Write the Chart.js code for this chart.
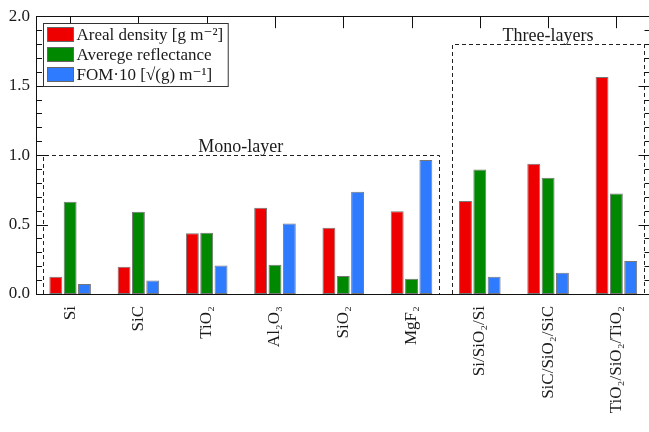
<!DOCTYPE html>
<html>
<head>
<meta charset="utf-8">
<script src="https://cdn.jsdelivr.net/npm/chart.js@4.4.0/dist/chart.umd.min.js"></script>
<style>
    html, body { margin: 0; padding: 0; background: #fff; overflow: hidden; }
    #wrap { width: 652px; height: 432px; }
</style>
</head>
<body>
<div id="wrap"><canvas id="grafico" width="652" height="432"></canvas></div>
<script>
// Dados
const categorias = ['Si', 'SiC', 'TiO₂', 'Al₂O₃', 'SiO₂', 'MgF₂', 'Si/SiO₂/Si', 'SiC/SiO₂/SiC', 'TiO₂/SiO₂/TiO₂'];
const densidadeAreal = [0.125, 0.196, 0.437, 0.621, 0.477, 0.595, 0.669, 0.938, 1.563];
const refletancia = [0.664, 0.592, 0.441, 0.211, 0.129, 0.110, 0.897, 0.837, 0.724];
const fom = [0.072, 0.098, 0.206, 0.508, 0.736, 0.964, 0.125, 0.153, 0.237];
const yTicks = [0, 0.5, 1.0, 1.5, 2.0];

// Caixas tracejadas (coordenadas em dados: índice de categoria e valor)
const grupos = [
    { texto: 'Mono-layer', x0: -0.4, x1: 5.4, y1: 1.0 },
    { texto: 'Three-layers', x0: 5.6, x1: 8.4, y1: 1.8 }
];

const fonte = '"Liberation Serif", "DejaVu Serif", serif';
const corTexto = '#1a1a1a';

// Plugin para moldura, ticks internos, caixas e legenda
const decoracao = {
    id: 'decoracao',
    afterDatasetsDraw(chart) {
        const { ctx, chartArea: a, scales: { x, y } } = chart;
        ctx.save();

        // caixas tracejadas
        ctx.strokeStyle = '#222';
        ctx.lineWidth = 1;
        ctx.setLineDash([4, 3]);
        grupos.forEach(g => {
            const px0 = Math.round(x.getPixelForValue(g.x0)) + 0.5;
            const px1 = Math.round(x.getPixelForValue(g.x1)) + 0.5;
            const py1 = Math.round(y.getPixelForValue(g.y1)) + 0.5;
            const py0 = y.getPixelForValue(0);
            ctx.beginPath();
            ctx.moveTo(px0, py0);
            ctx.lineTo(px0, py1);
            ctx.lineTo(px1, py1);
            ctx.lineTo(px1, py0);
            ctx.stroke();
        });
        ctx.setLineDash([]);

        ctx.fillStyle = corTexto;
        ctx.font = '18px ' + fonte;
        ctx.textAlign = 'center';
        ctx.textBaseline = 'alphabetic';
        grupos.forEach(g => {
            const cx = x.getPixelForValue((g.x0 + g.x1) / 2);
            ctx.fillText(g.texto, cx, y.getPixelForValue(g.y1) - 3);
        });

        // moldura
        ctx.strokeStyle = '#111';
        ctx.lineWidth = 1;
        ctx.strokeRect(Math.round(a.left) + 0.5, Math.round(a.top) + 0.5,
            Math.round(a.right - a.left), Math.round(a.bottom - a.top));

        // ticks do eixo y (maiores e menores), esquerda e direita
        ctx.beginPath();
        for (let i = 0; i <= 20; i++) {
            const v = i / 10;
            const py = Math.round(y.getPixelForValue(v)) + 0.5;
            const maior = i % 5 === 0;
            const len = maior ? 12 : 6;
            ctx.moveTo(a.left, py);
            ctx.lineTo(a.left + len, py);
            ctx.moveTo(a.right, py);
            ctx.lineTo(a.right - len, py);
        }
        // ticks do eixo x no topo
        categorias.forEach((c, i) => {
            const px = Math.round(x.getPixelForValue(i)) + 0.5;
            ctx.moveTo(px, a.top);
            ctx.lineTo(px, a.top + 12);
        });
        ctx.stroke();

        // legenda
        const linhas = chart.data.datasets;
        ctx.font = '17px ' + fonte;
        const larguraTexto = Math.max(...linhas.map(d => ctx.measureText(d.label).width));
        const lx = Math.round(a.left) + 7.5;
        const ly = Math.round(a.top) + 7.5;
        const lw = 33 + larguraTexto + 5;
        const lh = 63;
        ctx.fillStyle = '#fff';
        ctx.fillRect(lx, ly, lw, lh);
        ctx.strokeStyle = '#333';
        ctx.strokeRect(lx, ly, lw, lh);
        linhas.forEach((d, i) => {
            const ry = ly + 4 + i * 20;
            ctx.fillStyle = d.backgroundColor;
            ctx.fillRect(lx + 4, ry, 26, 14);
            ctx.strokeStyle = '#666';
            ctx.strokeRect(lx + 4, ry, 26, 14);
            ctx.fillStyle = corTexto;
            ctx.textAlign = 'left';
            ctx.textBaseline = 'middle';
            ctx.fillText(d.label, lx + 33, ry + 8);
        });

        ctx.restore();
    }
};

const grafico = new Chart(document.getElementById('grafico'), {
    type: 'bar',
    data: {
        labels: categorias,
        datasets: [
            { label: 'Areal density [g m⁻²]', data: densidadeAreal, backgroundColor: '#ee0000' },
            { label: 'Averege reflectance', data: refletancia, backgroundColor: '#008800' },
            { label: 'FOM·10 [√(g) m⁻¹]', data: fom, backgroundColor: '#2f7bff' }
        ]
    },
    options: {
        responsive: false,
        animation: false,
        devicePixelRatio: 1,
        layout: { padding: { top: 16, right: 1.5, left: 0, bottom: 0 } },
        datasets: {
            bar: {
                categoryPercentage: 0.63,
                barPercentage: 0.9,
                borderWidth: 1,
                borderColor: '#777',
                borderSkipped: false
            }
        },
        plugins: {
            legend: { display: false },
            tooltip: { enabled: false }
        },
        scales: {
            x: {
                offset: true,
                grid: { display: false, drawTicks: false },
                border: { display: false },
                ticks: {
                    autoSkip: false,
                    minRotation: 90,
                    maxRotation: 90,
                    padding: 12,
                    color: corTexto,
                    font: { family: fonte, size: 17 }
                },
                afterFit: s => { s.height = 138; }
            },
            y: {
                min: 0,
                max: 2,
                grid: { display: false, drawTicks: false },
                border: { display: false },
                afterBuildTicks: s => { s.ticks = yTicks.map(v => ({ value: v })); },
                ticks: {
                    padding: 6,
                    color: corTexto,
                    font: { family: fonte, size: 17 },
                    callback: v => Number(v).toFixed(1)
                },
                afterFit: s => { s.width = 36; }
            }
        }
    },
    plugins: [decoracao]
});
</script>
</body>
</html>
